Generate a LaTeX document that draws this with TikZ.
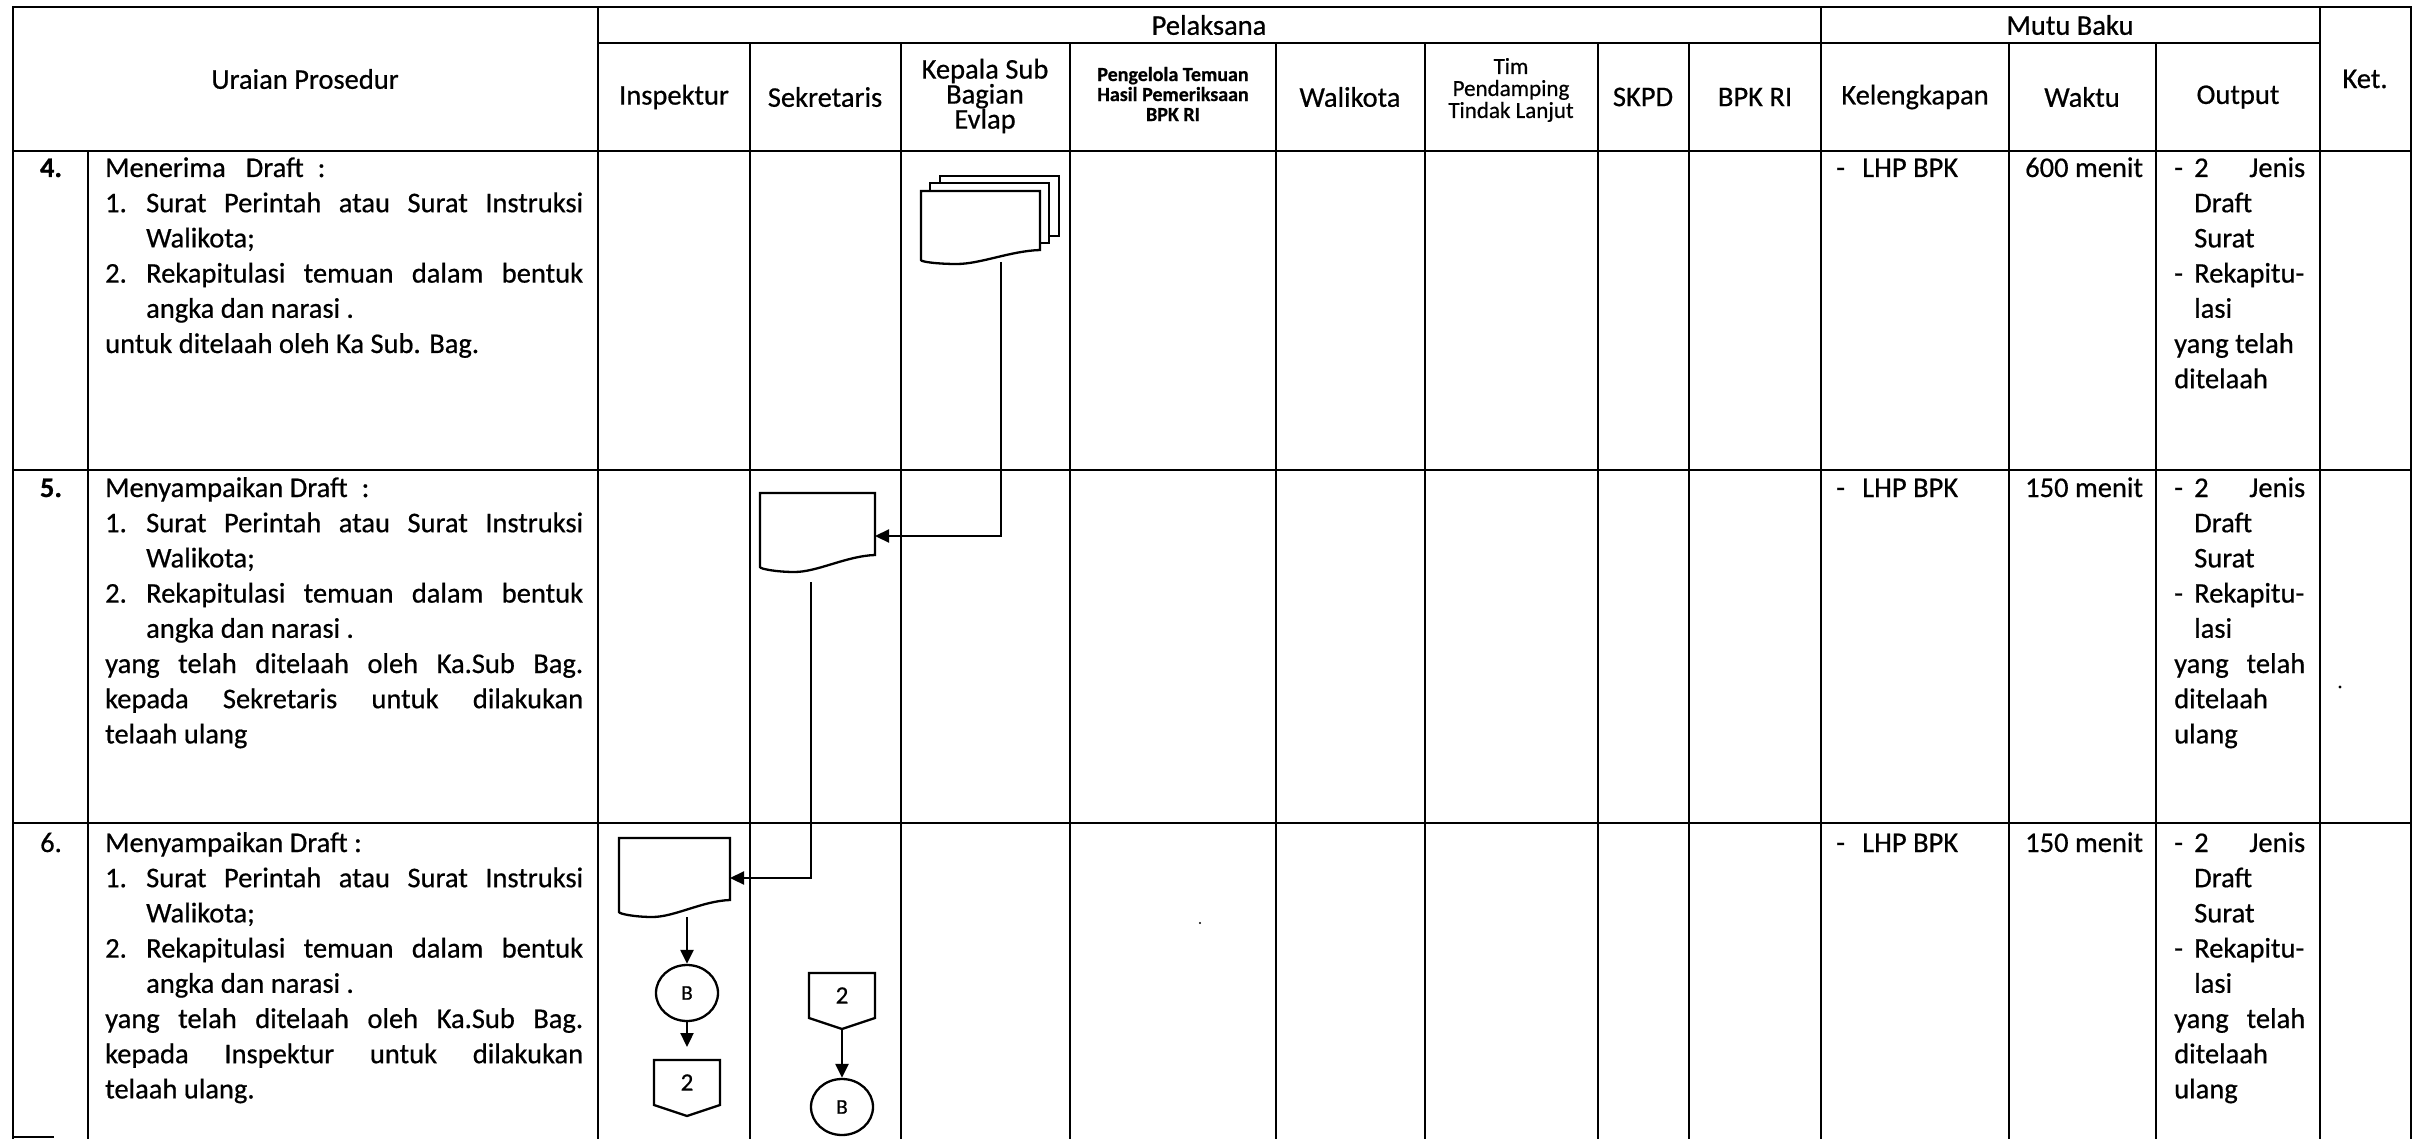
\documentclass[tikz,border=0pt]{standalone}
\usepackage{fontspec}
\setmainfont{Carlito}[FakeBold=0.6]
\usetikzlibrary{arrows.meta,calc,shapes.geometric}
\newcommand{\fs}{\fontsize{28.5}{35.2}\selectfont}
\newcommand{\js}[2]{\makebox[#1pt][s]{#2}}
\newcommand{\mydoc}[3]{%
  \draw[shp] (#1.north west) -- (#1.north east) -- (#1.south east)
    .. controls ($(#1.south east)!0.25!(#1.south west)+(0,1)$) and ($(#1.south east)!0.5!(#1.south west)+(0,#3)$) .. ($(#1.south east)!0.7!(#1.south west)+(0,#3)$)
    .. controls ($(#1.south east)!0.85!(#1.south west)+(0,#3)$) and ($(#1.south west)+(0,#2+2)$) .. ($(#1.south west)+(0,#2)$) -- cycle;}
\newcommand{\mypent}[1]{%
  \draw[shp,fill=none] (#1.north west) -- (#1.north east) -- (#1.south east) -- ($(#1.south)+(0,11)$) -- (#1.south west) -- cycle;}
\begin{document}
\begin{tikzpicture}[x=1pt,y=-1pt,
  grid/.style={line width=2.6pt,line cap=rect},
  shp/.style={draw,line width=2.3pt,fill=white,line join=miter},
  arr/.style={line width=2.3pt,-{Triangle[length=14pt,width=13pt]}},
  hdr/.style={align=center,font=\fs,inner sep=0},
  cell/.style={anchor=base west,inner sep=0,font=\fs},
  docn/.style={draw=none,inner sep=0,outer sep=0,anchor=north west},
  conn/.style={draw,ellipse,line width=2.3pt,inner sep=0,minimum width=62pt,minimum height=56pt,font=\fontsize{21}{24}\selectfont},
  pentn/.style={draw=none,inner sep=0,outer sep=0,minimum width=66pt,minimum height=45pt,anchor=north,font=\fontsize{25}{28}\selectfont}]
\useasboundingbox (0,0) rectangle (2425,1139);
% ---------- grid ----------
\draw[grid] (13,7) -- (2411,7);
\draw[grid] (598,43) -- (2320,43);
\foreach \yy in {151,470,823} \draw[grid] (13,\yy) -- (2411,\yy);
\foreach \xx in {13,598,1821,2320,2411} \draw[grid] (\xx,7) -- (\xx,1139);
\draw[grid] (88,151) -- (88,1139);
\foreach \xx in {750,901,1070,1276,1425,1598,1689,2009,2156} \draw[grid] (\xx,43) -- (\xx,1139);
\draw[grid] (13,1137) -- (53,1137);
% ---------- headers ----------
\node[hdr] (hU) at (305,79) {Uraian Prosedur};
\node[hdr] (hP) at (1209,25) {Pelaksana};
\node[hdr] (hM) at (2070,25) {Mutu Baku};
\node[hdr] (hK) at (2365,79) {Ket.};
\node[hdr] (hI) at (674,97) {Inspektur};
\node[hdr] (hS) at (825,97) {Sekretaris};
\node[hdr,font=\fontsize{28.5}{25}\selectfont] (hKS) at (985,96) {Kepala Sub\\Bagian\\Evlap};
\node[hdr,font=\fontsize{20}{20}\selectfont\bfseries] (hPT) at (1173,94) {Pengelola Temuan\\Hasil Pemeriksaan\\BPK RI};
\node[hdr] (hW) at (1350,97) {Walikota};
\node[hdr,font=\fontsize{23}{22}\selectfont] (hT) at (1511,90) {Tim\\Pendamping\\Tindak Lanjut};
\node[hdr] (hSK) at (1643,97) {SKPD};
\node[hdr] (hB) at (1755,97) {BPK RI};
\node[hdr] (hKl) at (1915,97) {Kelengkapan};
\node[hdr] (hWk) at (2082,97) {Waktu};
\node[hdr] (hO) at (2238,97) {Output};
% ---------- row numbers ----------
\node[anchor=base,inner sep=0,font=\fs\bfseries] (n4) at (51,177) {4.};
\node[anchor=base,inner sep=0,font=\fs\bfseries] (n5) at (51,497) {5.};
\node[anchor=base,inner sep=0,font=\fs] (n6) at (51,852) {6.};
% ---------- uraian ----------
\node[cell] (u4) at (105,177) {\parbox[t]{478pt}{\fs
Menerima\hspace{20pt}Draft\hspace{14pt}:\\
\makebox[41pt][l]{1.}\js{437}{Surat Perintah atau Surat Instruksi}\\
\hspace*{41pt}Walikota;\\
\makebox[41pt][l]{2.}\js{437}{Rekapitulasi temuan dalam bentuk}\\
\hspace*{41pt}angka dan narasi .\\
untuk ditelaah oleh Ka Sub. Bag.}};
\node[cell] (u5) at (105,497) {\parbox[t]{478pt}{\fs
Menyampaikan Draft\hspace{14pt}:\\
\makebox[41pt][l]{1.}\js{437}{Surat Perintah atau Surat Instruksi}\\
\hspace*{41pt}Walikota;\\
\makebox[41pt][l]{2.}\js{437}{Rekapitulasi temuan dalam bentuk}\\
\hspace*{41pt}angka dan narasi .\\
\js{478}{yang telah ditelaah oleh Ka.Sub Bag.}\\
\js{478}{kepada Sekretaris untuk dilakukan}\\
telaah ulang}};
\node[cell] (u6) at (105,852) {\parbox[t]{478pt}{\fs
Menyampaikan Draft :\\
\makebox[41pt][l]{1.}\js{437}{Surat Perintah atau Surat Instruksi}\\
\hspace*{41pt}Walikota;\\
\makebox[41pt][l]{2.}\js{437}{Rekapitulasi temuan dalam bentuk}\\
\hspace*{41pt}angka dan narasi .\\
\js{478}{yang telah ditelaah oleh Ka.Sub Bag.}\\
\js{478}{kepada Inspektur untuk dilakukan}\\
telaah ulang.}};
% ---------- mutu baku ----------
\node[cell] (k4) at (1836,177) {\makebox[26pt][l]{-}LHP BPK};
\node[cell] (k5) at (1836,497) {\makebox[26pt][l]{-}LHP BPK};
\node[cell] (k6) at (1836,852) {\makebox[26pt][l]{-}LHP BPK};
\node[cell] (w4) at (2025,177) {600 menit};
\node[cell] (w5) at (2025,497) {150 menit};
\node[cell] (w6) at (2025,852) {150 menit};
\node[cell] (o4) at (2174,177) {\parbox[t]{140pt}{\fs
\makebox[20pt][l]{-}\js{111}{2 Jenis}\\
\hspace*{20pt}Draft\\
\hspace*{20pt}Surat\\
\makebox[20pt][l]{-}\mbox{Rekapitu-}\\
\hspace*{20pt}lasi\\
yang telah\\
ditelaah}};
\node[cell] (o5) at (2174,497) {\parbox[t]{140pt}{\fs
\makebox[20pt][l]{-}\js{111}{2 Jenis}\\
\hspace*{20pt}Draft\\
\hspace*{20pt}Surat\\
\makebox[20pt][l]{-}\mbox{Rekapitu-}\\
\hspace*{20pt}lasi\\
\js{131}{yang telah}\\
ditelaah\\
ulang}};
\node[cell] (o6) at (2174,852) {\parbox[t]{140pt}{\fs
\makebox[20pt][l]{-}\js{111}{2 Jenis}\\
\hspace*{20pt}Draft\\
\hspace*{20pt}Surat\\
\makebox[20pt][l]{-}\mbox{Rekapitu-}\\
\hspace*{20pt}lasi\\
\js{131}{yang telah}\\
ditelaah\\
ulang}};
% ---------- flow shapes ----------
\node[docn,minimum width=119pt,minimum height=60pt] (k4c) at (940,176) {};
\draw[shp] (k4c.north west) rectangle (k4c.south east);
\node[docn,minimum width=119pt,minimum height=60pt] (k4b) at (930,183) {};
\draw[shp] (k4b.north west) rectangle (k4b.south east);
\node[docn,minimum width=119pt,minimum height=59pt] (k4a) at (921,191) {};
\mydoc{k4a}{10}{14}
\node[docn,minimum width=115pt,minimum height=62pt] (s5) at (760,493) {};
\mydoc{s5}{12}{17}
\node[docn,minimum width=111pt,minimum height=62pt] (i6) at (619,838) {};
\mydoc{i6}{12}{17}
\node[conn] (b1) at (687,993) {B};
\node[pentn] (p1) at (687,1060) {2};
\mypent{p1}
\node[pentn] (p2) at (842,973) {2};
\mypent{p2}
\node[conn] (b2) at (842,1107) {B};
% ---------- connectors ----------
\coordinate (k4o) at ($(k4a.south west)+(80,12)$);
\draw[arr] (k4o) |- ($(s5.north east)+(0,43)$);
\coordinate (s5o) at ($(s5.south west)+(51,27)$);
\draw[arr] (s5o) |- ($(i6.north east)+(0,40)$);
\coordinate (i6o) at ($(i6.south west)+(68,17)$);
\draw[arr] (i6o) -- (b1.north);
\draw[arr] (b1.south) -- ($(p1.north)+(0,-13)$);
\draw[arr] ($(p2.south)+(0,11)$) -- (b2.north);
% ---------- stray marks ----------
\fill (2340,687) circle (1.6pt);
\fill (1200,923) circle (1.2pt);
\end{tikzpicture}
\end{document}
